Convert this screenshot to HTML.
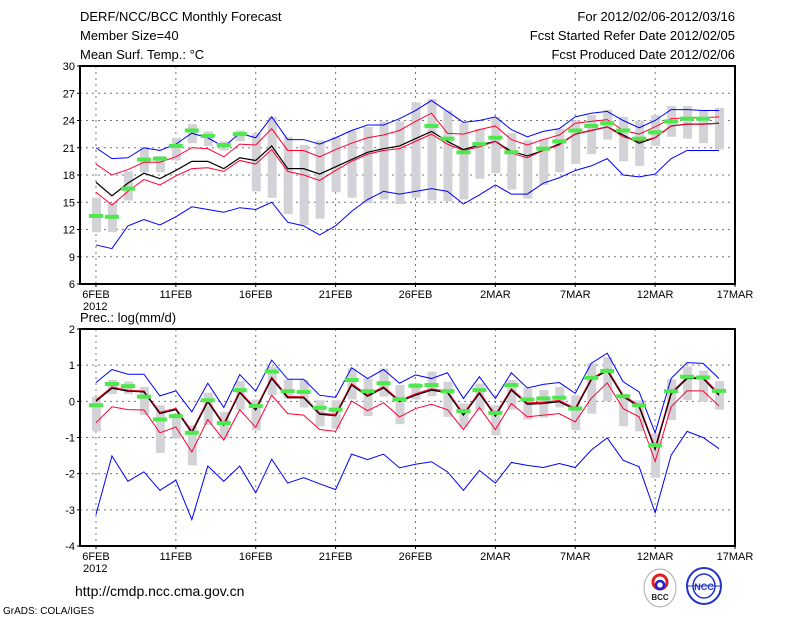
<!DOCTYPE html>
<html><head><meta charset="utf-8"><style>
body{margin:0;background:#fff;}
svg{display:block;font-family:"Liberation Sans",sans-serif;}
</style></head><body>
<svg id="chart" width="800" height="618" viewBox="0 0 800 618">
<rect width="800" height="618" fill="#fff"/>
<g font-size="13" fill="#000">
<text x="80" y="21">DERF/NCC/BCC Monthly Forecast</text>
<text x="80" y="40">Member Size=40</text>
<text x="80" y="59">Mean Surf. Temp.: °C</text>
<text x="735" y="21" text-anchor="end">For 2012/02/06-2012/03/16</text>
<text x="735" y="40" text-anchor="end">Fcst Started Refer Date 2012/02/05</text>
<text x="735" y="59" text-anchor="end">Fcst Produced Date 2012/02/06</text>
<text x="80" y="322">Prec.: log(mm/d)</text>
<text x="75" y="596" font-size="14">http://cmdp.ncc.cma.gov.cn</text>
<text x="3" y="614" font-size="10">GrADS: COLA/IGES</text>
</g>
<g>
<ellipse cx="660" cy="588" rx="16" ry="19" fill="#fff" stroke="#aaa"/>
<circle cx="660" cy="582" r="7" fill="none" stroke="#d22" stroke-width="3"/>
<circle cx="660" cy="585" r="4" fill="none" stroke="#22c" stroke-width="2.5"/>
<text x="660" y="600" font-size="8" font-weight="bold" fill="#222" text-anchor="middle">BCC</text>
</g>
<g>
<ellipse cx="704" cy="586" rx="17" ry="18" fill="#fff" stroke="#2233cc" stroke-width="2"/>
<ellipse cx="704" cy="586" rx="11" ry="12" fill="none" stroke="#2233cc" stroke-width="1.5"/>
<line x1="687" y1="586" x2="721" y2="586" stroke="#2233cc"/>
<text x="704" y="590" font-size="9" font-weight="bold" fill="#2233cc" text-anchor="middle">NCC</text>
</g>
<g id="plots"></g>
</svg>
<script>
// ---- Temperature data (days 0..39 from 6FEB) ----
const tBlueUp=[21.0,19.8,19.9,21.0,20.7,21.4,22.6,22.1,21.1,22.6,22.1,24.4,21.9,21.9,21.4,22.1,22.9,23.5,23.5,24.2,25.1,26.2,25.0,23.8,24.0,24.4,23.0,22.2,22.8,23.1,24.4,24.8,25.0,24.0,23.2,24.0,25.2,25.2,25.1,25.1];
const tRedUp=[19.2,18.0,18.6,19.4,19.4,20.0,21.0,20.9,20.0,21.4,21.3,23.1,20.7,20.7,20.0,20.8,21.5,22.1,22.4,22.9,23.9,24.8,22.6,22.5,23.0,23.4,21.9,21.3,21.9,22.4,23.7,23.9,24.1,22.9,22.5,23.3,24.2,24.3,24.3,24.4];
const tMean=[17.2,15.7,17.1,18.2,17.6,18.5,19.5,19.5,18.7,19.9,19.6,21.2,18.7,18.7,18.1,18.9,19.7,20.5,20.9,21.2,22.0,22.8,21.7,20.8,21.3,21.7,20.6,20.1,20.7,21.4,22.5,22.9,23.3,22.4,21.5,22.1,23.4,23.6,23.6,23.7];
const tRedLo=[16.1,14.7,16.2,17.5,16.9,17.9,18.7,18.8,18.4,19.6,19.2,20.8,18.4,18.0,17.4,18.5,19.5,20.3,20.7,20.9,21.7,22.5,21.4,20.7,21.1,21.7,20.4,19.9,20.7,21.3,22.5,22.9,23.3,22.2,21.7,22.1,23.4,23.6,23.6,23.7];
const tBlueLo=[10.3,9.9,12.4,13.1,12.5,13.4,14.5,14.2,13.9,14.4,14.2,15.0,12.8,12.4,11.4,12.4,14.0,15.3,16.2,15.9,16.2,16.5,16.2,14.8,15.8,16.9,15.9,15.9,17.1,17.7,18.5,19.0,19.8,18.0,17.8,18.1,19.8,20.7,20.7,20.7];
const tBarTop=[15.5,14.9,18.4,21.0,20.1,22.1,23.6,22.8,21.7,22.9,22.6,24.4,22.2,21.3,21.8,22.2,22.9,23.3,23.9,23.9,26.0,26.4,25.1,23.7,23.1,24.4,22.6,21.8,22.0,23.1,24.0,24.6,25.2,24.4,24.0,24.6,25.6,25.6,25.1,25.4];
const tBarBot=[11.7,11.7,15.2,18.3,18.3,19.6,21.5,21.2,20.7,21.7,16.2,15.5,13.7,12.5,13.2,16.1,15.5,14.9,15.3,14.8,15.5,15.2,15.1,15.3,17.6,18.2,16.4,15.4,16.9,18.3,19.2,20.3,21.9,19.5,19.0,21.2,22.2,22.0,21.5,20.8];
const tObs=[13.5,13.4,16.5,19.7,19.8,21.2,22.9,22.3,21.3,22.5,null,null,null,null,null,null,null,null,null,null,null,23.4,22.0,20.5,21.4,22.1,20.5,null,20.9,21.7,22.9,23.4,23.7,22.9,22.0,22.7,23.9,24.2,24.2,null];
// ---- Precipitation data log(mm/d) ----
const pBlueUp=[0.52,0.88,0.75,0.75,0.15,0.29,-0.29,0.50,-0.17,0.74,0.28,1.14,0.61,0.61,0.17,0.11,0.93,0.63,0.88,0.50,0.73,0.63,0.79,0.08,0.68,0.08,0.79,0.37,0.47,0.52,0.22,1.05,1.33,0.54,0.26,-0.87,0.63,1.07,1.05,0.63];
const pMean=[0.0,0.36,0.28,0.26,-0.34,-0.23,-0.87,-0.01,-0.66,0.24,-0.24,0.63,0.10,0.10,-0.36,-0.40,0.45,0.14,0.37,-0.01,0.17,0.31,0.24,-0.38,0.22,-0.41,0.31,-0.08,-0.06,-0.01,-0.23,0.59,0.85,0.13,-0.15,-1.33,0.20,0.63,0.63,0.17];
const pRedUp=[0.03,0.39,0.30,0.28,-0.31,-0.20,-0.84,0.02,-0.63,0.27,-0.21,0.66,0.13,0.12,-0.33,-0.37,0.48,0.17,0.40,0.02,0.20,0.34,0.27,-0.35,0.25,-0.38,0.34,-0.05,-0.03,0.02,-0.20,0.62,0.88,0.16,-0.12,-1.30,0.23,0.66,0.66,0.20];
const pRedLo=[-0.59,-0.15,-0.23,-0.24,-0.87,-0.71,-1.40,-0.50,-1.07,-0.23,-0.72,0.17,-0.34,-0.38,-0.78,-0.83,0.01,-0.26,-0.04,-0.43,-0.20,-0.08,-0.23,-0.78,-0.17,-0.78,-0.06,-0.43,-0.38,-0.34,-0.57,0.08,0.51,-0.20,-0.43,-1.66,-0.15,0.29,0.29,-0.13];
const pBlueLo=[-3.13,-1.51,-2.21,-1.95,-2.46,-2.18,-3.27,-1.79,-2.21,-1.79,-2.53,-1.60,-2.26,-2.11,-2.28,-2.44,-1.46,-1.61,-1.46,-1.84,-1.74,-1.67,-1.95,-2.46,-1.91,-2.26,-1.69,-1.77,-1.83,-1.72,-1.83,-1.35,-1.01,-1.63,-1.81,-3.08,-1.49,-0.83,-1.00,-1.31];
const pBarTop=[0.13,0.59,0.55,0.40,-0.11,-0.34,-0.66,0.24,-0.29,0.56,0.05,0.96,0.59,0.59,0.03,0.03,0.91,0.63,0.91,0.45,0.50,0.82,0.54,-0.06,0.49,-0.11,0.59,0.36,0.31,0.40,0.17,1.05,1.22,0.20,0.03,-0.89,0.61,0.96,0.85,0.56];
const pBarBot=[-0.83,0.20,0.20,-0.38,-1.43,-1.03,-1.77,-0.66,-1.03,-0.23,-0.80,0.17,0.08,-0.17,-0.69,-0.75,0.05,-0.41,0.13,-0.63,0.05,0.14,-0.43,-0.72,-0.26,-0.94,-0.23,-0.50,-0.45,-0.17,-0.80,-0.34,0.00,-0.69,-0.83,-2.11,-0.52,0.03,-0.01,-0.23];
const pObs=[-0.11,0.48,0.42,0.13,-0.50,-0.41,-0.87,0.03,-0.60,0.31,-0.13,0.82,0.28,0.26,-0.18,-0.23,0.59,0.28,0.50,0.06,0.43,0.45,0.28,-0.27,0.31,-0.32,0.45,0.05,0.08,0.10,-0.20,0.65,0.84,0.14,-0.11,-1.21,0.28,0.68,0.66,0.29];
const xLabels=["6FEB","11FEB","16FEB","21FEB","26FEB","2MAR","7MAR","12MAR","17MAR"];
const tTicks=[6,9,12,15,18,21,24,27,30];
const pTicks=[-4,-3,-2,-1,0,1,2];

const NS="http://www.w3.org/2000/svg";
const root=document.getElementById('plots');
const X0=80,X1=735,D0=-1,D1=40;
function xs(d){return X0+(d-D0)*(X1-X0)/(D1-D0);}
function mk(tag,attrs,parent){const e=document.createElementNS(NS,tag);for(const k in attrs)e.setAttribute(k,attrs[k]);(parent||root).appendChild(e);return e;}

function panel(name,top,bot,vmin,vmax,ticks,bars,obs,lines){
  const g=mk('g',{});
  
  
  const ys=v=>bot-(v-vmin)*(bot-top)/(vmax-vmin);
  // grid
  for(let i=0;i<xLabels.length;i++){
    const x=xs(i*5);
    const gl=mk('line',{x1:x,x2:x,y1:top,y2:bot,stroke:'#777','stroke-dasharray':'2,4','stroke-width':1},g);
    
    
  }
  ticks.forEach(t=>{
    const y=ys(t);
    const gl=mk('line',{x1:X0,x2:X1,y1:y,y2:y,stroke:'#777','stroke-dasharray':'2,4','stroke-width':1},g);
    
    
    const tl=mk('text',{x:X0-5,y:y+4,'font-size':11,'text-anchor':'end'},g);
    tl.textContent=t;
    
    
    mk('line',{x1:X0-3,x2:X0,y1:y,y2:y,stroke:'#000'},g);
  });
  // bars
  bars[0].forEach((t,i)=>{
    const b=bars[1][i];
    const r=mk('rect',{x:xs(i)-4,y:ys(t),width:9,height:ys(b)-ys(t),fill:'#d3d3d7'},g);
    
    
  });
  // lines
  lines.forEach(([arr,color,w,nm])=>{
    const p=mk('polyline',{points:arr.map((v,i)=>xs(i)+','+ys(v)).join(' '),fill:'none',stroke:color,'stroke-width':w},g);
    
    
  });
  // obs marks
  obs.forEach((v,i)=>{
    if(v===null)return;
    const r=mk('rect',{x:xs(i)-7,y:ys(v)-2,width:14,height:4,fill:'#4de84d'},g);
    
    
  });
  // frame
  const f=mk('rect',{x:X0,y:top,width:X1-X0,height:bot-top,fill:'none',stroke:'#000','stroke-width':2},g);
  
  
  // x labels
  xLabels.forEach((l,i)=>{
    const x=xs(i*5);
    mk('line',{x1:x,x2:x,y1:bot,y2:bot+3,stroke:'#000'},g);
    const tl=mk('text',{x:x,y:bot+14,'font-size':11,'text-anchor':'middle'},g);
    tl.textContent=l;
    
    
  });
  const yr=mk('text',{x:xs(0)-13,y:bot+26,'font-size':11},g);
  yr.textContent='2012';
  
  
}
panel('temperature',66,284,6,30,tTicks,[tBarTop,tBarBot],tObs,[
  [tBlueUp,'#0000ff',1,'temp-max-line'],[tRedUp,'#ff0033',1,'temp-upper-line'],
  [tMean,'#000',1.2,'temp-mean-line'],[tRedLo,'#ff0033',1,'temp-lower-line'],[tBlueLo,'#0000ff',1,'temp-min-line']]);
panel('precipitation',329,546,-4,2,pTicks,[pBarTop,pBarBot],pObs,[
  [pBlueUp,'#0000ff',1,'precip-max-line'],[pRedUp,'#ff0033',1.5,'precip-upper-line'],
  [pMean,'#000',1.2,'precip-mean-line'],[pRedLo,'#ff0033',1,'precip-lower-line'],[pBlueLo,'#0000ff',1,'precip-min-line']]);
</script>
</body></html>
